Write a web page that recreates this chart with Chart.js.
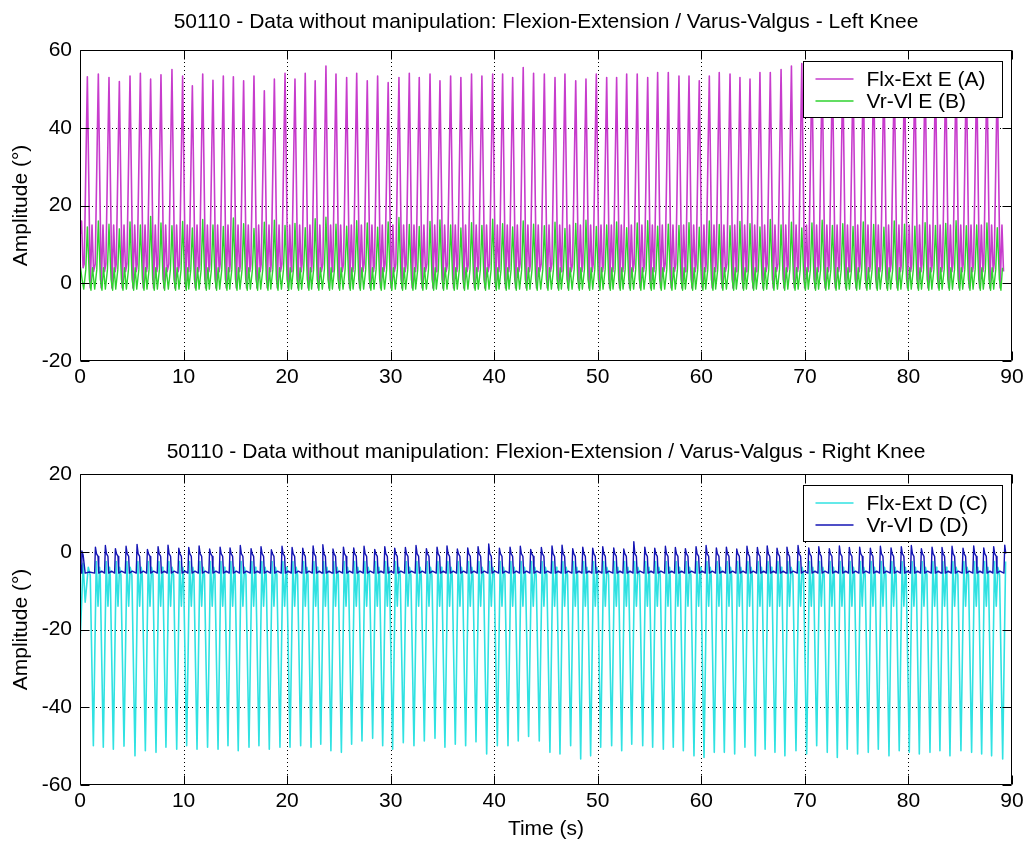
<!DOCTYPE html>
<html>
<head>
<meta charset="utf-8">
<title>50110 - Flexion-Extension / Varus-Valgus</title>
<script src="https://cdn.jsdelivr.net/npm/chart.js@4.4.1/dist/chart.umd.min.js"></script>
<style>
  html, body { margin: 0; padding: 0; background: #fff; }
  #page { position: relative; width: 1028px; height: 843px; overflow: hidden; }
  canvas { position: absolute; left: 0; }
  #left { top: 0; }
  #right { top: 420px; }
</style>
</head>
<body>
<div id="page">
  <canvas id="left" width="1028" height="420"></canvas>
  <canvas id="right" width="1028" height="423"></canvas>
</div>
<script>
// ---------------------------------------------------------------------------
// Gait record 50110, knee angles without manipulation.
// Every stride is described by the instant of its main extreme plus a few
// characteristic levels; the per-stride extremes are listed explicitly.
// ---------------------------------------------------------------------------

const timeTicks = [0, 10, 20, 30, 40, 50, 60, 70, 80, 90];
const leftTicks = [-20, 0, 20, 40, 60];
const rightTicks = [-60, -40, -20, 0, 20];

// Left knee: time (s) of each flexion peak
const leftStrideTimes = [
  0.71, 1.77, 2.80, 3.80, 4.83, 5.83, 6.82, 7.82, 8.88, 9.91,
  10.85, 11.85, 12.84, 13.84, 14.81, 15.80, 16.80, 17.80, 18.77, 19.80,
  20.76, 21.75, 22.71, 23.75, 24.72, 25.75, 26.72, 27.74, 28.74, 29.76,
  30.80, 31.80, 32.76, 33.80, 34.76, 35.79, 36.78, 37.81, 38.81, 39.85,
  40.81, 41.78, 42.80, 43.80, 44.84, 45.87, 46.83, 47.87, 48.86, 49.86,
  50.86, 51.82, 52.79, 53.81, 54.82, 55.78, 56.81, 57.84, 58.81, 59.80,
  60.77, 61.73, 62.77, 63.73, 64.70, 65.66, 66.66, 67.70, 68.70, 69.70,
  70.68, 71.67, 72.66, 73.66, 74.65, 75.64, 76.64, 77.63, 78.63, 79.62,
  80.62, 81.61, 82.61, 83.60, 84.60, 85.59, 86.59, 87.58, 88.58
];

// Flx-Ext E (A): swing flexion peak of each stride (deg)
const flxExtEPeaks = [
  53.1, 53.8, 52.9, 51.9, 53.3, 54.0, 52.5, 53.6, 55.0, 53.3,
  50.8, 53.8, 52.2, 53.3, 53.1, 52.1, 53.3, 49.5, 52.5, 54.0,
  52.5, 54.0, 52.1, 55.9, 53.8, 52.9, 54.0, 52.1, 53.3, 51.6,
  52.9, 54.0, 52.9, 53.8, 52.1, 53.3, 52.9, 53.8, 53.3, 53.8,
  53.8, 52.9, 55.5, 54.0, 53.8, 52.9, 53.8, 52.1, 52.5, 53.8,
  52.9, 52.9, 53.8, 53.8, 52.9, 54.2, 54.2, 53.3, 53.3, 52.1,
  53.3, 54.2, 53.8, 52.9, 52.5, 54.2, 54.2, 55.0, 55.9, 56.5,
  55.2, 54.6, 55.0, 54.3, 53.8, 54.5, 55.1, 54.0, 53.6, 54.4,
  53.9, 54.7, 53.5, 54.2, 53.8, 54.6, 53.9, 54.1, 53.7
];

// Vr-Vl E (B): peak of each stride (deg)
const vrVlEPeaks = [
  14.5, 16.0, 15.2, 14.0, 15.8, 15.0, 17.2, 15.5, 14.8, 15.9,
  14.2, 16.4, 15.0, 14.6, 16.8, 15.3, 14.1, 15.7, 16.2, 14.9,
  15.4, 14.3, 16.6, 17.0, 15.2, 14.7, 16.1, 15.5, 14.4, 15.8,
  16.9, 15.1, 14.6, 15.9, 16.3, 15.0, 14.2, 15.6, 14.9, 16.5,
  15.3, 14.5, 16.0, 15.2, 14.8, 15.7, 14.1, 15.4, 16.2, 14.6,
  15.0, 15.8, 14.3, 15.5, 16.1, 14.7, 15.2, 14.9, 15.6, 14.4,
  16.0, 15.1, 14.8, 15.9, 15.3, 14.5, 16.4, 15.0, 15.7, 14.2,
  15.5, 16.2, 14.9, 15.3, 14.6, 15.8, 15.1, 14.4, 16.0, 15.2,
  14.7, 15.6, 14.9, 15.4, 16.1, 14.8, 15.0, 15.5, 14.3
];

// Right knee: time (s) of each flexion extreme (negative sign convention)
const rightStrideTimes = [
  1.29, 2.25, 3.22, 4.25, 5.31, 6.31, 7.34, 8.30, 9.34, 10.30,
  11.30, 12.32, 13.33, 14.29, 15.28, 16.32, 17.28, 18.28, 19.31, 20.28,
  21.31, 22.31, 23.25, 24.23, 25.24, 26.23, 27.23, 28.26, 29.23, 30.19,
  31.22, 32.25, 33.25, 34.28, 35.24, 36.24, 37.24, 38.24, 39.27, 40.30,
  41.33, 42.32, 43.32, 44.35, 45.38, 46.35, 47.38, 48.35, 49.31, 50.28,
  51.34, 52.31, 53.28, 54.34, 55.30, 56.33, 57.29, 58.26, 59.29, 60.26,
  61.25, 62.22, 63.22, 64.21, 65.21, 66.16, 67.11, 68.07, 69.14, 70.17,
  71.14, 72.16, 73.13, 74.09, 75.09, 76.12, 77.09, 78.12, 79.11, 80.08,
  81.05, 82.08, 83.04, 84.01, 85.07, 86.10, 87.07, 88.03, 89.10
];

// Flx-Ext D (C): swing flexion extreme of each stride (deg)
const flxExtDTroughs = [
  -49.9, -50.3, -50.8, -50.0, -52.5, -51.2, -51.6, -50.3, -50.8, -49.9,
  -50.8, -50.3, -50.8, -49.9, -51.2, -50.3, -49.9, -50.8, -50.3, -50.3,
  -49.9, -50.3, -49.5, -51.2, -51.6, -49.5, -48.7, -48.0, -49.9, -50.8,
  -49.1, -49.9, -48.7, -48.0, -50.3, -49.5, -49.9, -48.9, -52.0, -49.9,
  -49.9, -48.7, -47.5, -48.7, -51.6, -52.0, -49.9, -53.3, -52.5, -50.3,
  -49.9, -51.2, -49.5, -49.9, -50.3, -50.8, -50.3, -51.2, -52.5, -52.9,
  -51.6, -51.6, -52.0, -50.3, -52.5, -50.8, -51.6, -52.5, -51.2, -52.0,
  -49.9, -51.6, -52.9, -50.8, -52.0, -51.6, -50.8, -52.5, -51.2, -51.6,
  -52.0, -51.6, -51.2, -52.5, -51.2, -51.6, -52.0, -52.5, -53.3
];

// Vr-Vl D (D): peak of each stride (deg)
const vrVlDPeaks = [
  1.2, 1.6, 0.8, 1.4, 1.9, 0.6, 1.3, 1.7, 0.9, 1.1,
  1.5, 0.7, 1.2, 1.0, 1.6, 0.8, 1.3, 0.5, 1.4, 1.1,
  0.9, 1.5, 1.8, 0.7, 1.2, 1.0, 1.4, 0.6, 1.3, 0.9,
  1.1, 1.6, 0.8, 1.2, 1.5, 0.7, 1.0, 1.3, 2.0, 0.9,
  1.2, 1.4, 0.6, 1.1, 1.5, 1.7, 0.8, 1.2, 0.9, 1.3,
  1.0, 0.7, 2.6, 1.2, 0.9, 1.4, 1.1, 0.8, 1.3, 1.6,
  1.0, 1.2, 0.7, 1.4, 1.1, 1.5, 0.9, 1.2, 1.6, 1.0,
  1.3, 0.8, 1.5, 1.1, 1.2, 0.9, 1.4, 1.0, 1.3, 1.6,
  0.8, 1.2, 1.1, 1.4, 0.9, 1.5, 1.0, 1.3, 1.7
];

// Typical waveform of one stride: phase offset (s) from the stride instant and
// the level seen at that phase; null takes the stride's own listed extreme.
const flxExtEPhase = [-0.30, 0.00, 0.28, 0.45, 0.60];
const flxExtELevel = [5.0, null, -1.2, 15.0, 3.0];
const vrVlEPhase = [-0.35, -0.15, 0.00, 0.20, 0.35, 0.50];
const vrVlELevel = [-1.5, 3.5, null, 1.0, -1.8, 4.0];
const flxExtDPhase = [-0.30, 0.00, 0.28, 0.45, 0.60];
const flxExtDLevel = [-6.0, null, -2.5, -14.0, -4.0];
const vrVlDPhase = [0.12, 0.20, 0.30, 0.45, 0.52, 0.80];
const vrVlDLevel = [-5.5, null, -0.5, -1.2, -5.5, -5.0];

// Samples before the first listed stride: [time, value]
const flxExtEStart = [[0.0, 12.0], [0.15, 16.0], [0.30, 4.0]];
const vrVlEStart = [[0.0, 5.0], [0.2, 1.0]];
const flxExtDStart = [[0.0, -24.0], [0.3, -3.0], [0.5, -13.0], [0.8, -4.0]];
const vrVlDStart = [[0.0, -2.0], [0.1, -5.5], [0.18, 0.2], [0.3, -0.8], [0.5, -5.5], [0.9, -5.2]];

function buildSeries(start, times, extremes, phase, level, tEnd) {
  const pts = start.map(([x, y]) => ({ x, y }));
  times.forEach((t, i) => {
    phase.forEach((dt, k) => {
      const x = +(t + dt).toFixed(3);
      if (x <= tEnd && x > pts[pts.length - 1].x) {
        pts.push({ x, y: level[k] === null ? extremes[i] : level[k] });
      }
    });
  });
  return pts;
}

const FONT_FAMILY = '"Liberation Sans", Arial, Helvetica, sans-serif';
const FONT_SIZE = 21;

// Axes frame in the classic style: dotted grid, inward ticks, full box,
// centred title and a boxed legend in the upper right.
const framePlugin = {
  id: 'frame',
  beforeDatasetsDraw(chart) {
    const { ctx, chartArea: a, scales: { x, y } } = chart;
    ctx.save();
    ctx.strokeStyle = '#000';
    ctx.lineWidth = 1;
    ctx.setLineDash([1, 3]);
    ctx.beginPath();
    x.ticks.forEach(t => {
      const px = Math.round(x.getPixelForValue(t.value)) + 0.5;
      if (px > a.left + 2 && px < a.right - 2) { ctx.moveTo(px, a.top); ctx.lineTo(px, a.bottom); }
    });
    y.ticks.forEach(t => {
      const py = Math.round(y.getPixelForValue(t.value)) + 0.5;
      if (py > a.top + 2 && py < a.bottom - 2) { ctx.moveTo(a.left, py); ctx.lineTo(a.right, py); }
    });
    ctx.stroke();
    ctx.restore();
  },
  afterDatasetsDraw(chart, args, opts) {
    const { ctx, chartArea: a, scales: { x, y } } = chart;
    const L = Math.round(a.left) + 0.5, R = Math.round(a.right) - 0.5;
    const T = Math.round(a.top) + 0.5, B = Math.round(a.bottom) - 0.5;
    ctx.save();
    ctx.strokeStyle = '#000';
    ctx.lineWidth = 1;
    ctx.setLineDash([]);
    ctx.beginPath();
    ctx.rect(L, T, R - L, B - T);
    const tl = opts.tickLength;
    x.ticks.forEach(t => {
      const px = Math.round(x.getPixelForValue(t.value)) + 0.5;
      ctx.moveTo(px, B); ctx.lineTo(px, B - tl);
      ctx.moveTo(px, T); ctx.lineTo(px, T + tl);
    });
    y.ticks.forEach(t => {
      const py = Math.round(y.getPixelForValue(t.value)) + 0.5;
      ctx.moveTo(L, py); ctx.lineTo(L + tl, py);
      ctx.moveTo(R, py); ctx.lineTo(R - tl, py);
    });
    ctx.stroke();

    // legend
    const lg = opts.legend;
    const bx = Math.round(a.right - lg.right - lg.width) + 0.5;
    const by = Math.round(a.top + lg.top) + 0.5;
    ctx.fillStyle = '#fff';
    ctx.fillRect(bx, by, lg.width, lg.height);
    ctx.strokeStyle = '#000';
    ctx.strokeRect(bx, by, lg.width, lg.height);
    ctx.font = `${FONT_SIZE}px ${FONT_FAMILY}`;
    ctx.textBaseline = 'middle';
    ctx.textAlign = 'left';
    chart.data.datasets.forEach((ds, i) => {
      const ry = Math.round(by + lg.rowTop + i * lg.rowGap);
      ctx.strokeStyle = ds.borderColor;
      ctx.lineWidth = lg.lineWidth;
      ctx.beginPath();
      ctx.moveTo(bx + lg.lineFrom, ry);
      ctx.lineTo(bx + lg.lineTo, ry);
      ctx.stroke();
      ctx.fillStyle = '#000';
      ctx.fillText(ds.label, bx + lg.textAt, ry + 1);
    });

    // title
    ctx.fillStyle = '#000';
    ctx.font = `${FONT_SIZE}px ${FONT_FAMILY}`;
    ctx.textAlign = 'center';
    ctx.textBaseline = 'middle';
    ctx.fillText(opts.title, (a.left + a.right) / 2, a.top - opts.titleGap);
    ctx.restore();
  }
};

function makeChart(canvasId, cfg) {
  const H = document.getElementById(canvasId).height;
  const font = { family: FONT_FAMILY, size: FONT_SIZE };
  return new Chart(document.getElementById(canvasId), {
    type: 'line',
    data: { datasets: cfg.datasets },
    plugins: [framePlugin],
    options: {
      responsive: false,
      devicePixelRatio: 1,
      animation: false,
      parsing: false,
      normalized: true,
      events: [],
      layout: { padding: { left: 0, right: 16, top: cfg.top, bottom: 0 } },
      elements: { point: { radius: 0 }, line: { tension: 0, borderWidth: 1.5, borderJoinStyle: 'round' } },
      plugins: {
        legend: { display: false },
        tooltip: { enabled: false },
        frame: {
          title: cfg.title,
          titleGap: cfg.titleGap,
          tickLength: 9,
          legend: { right: 10, top: 11, width: 199, height: 56, rowTop: 17, rowGap: 22,
                    lineFrom: 12, lineTo: 50, textAt: 63, lineWidth: 1.5 }
        }
      },
      scales: {
        x: {
          type: 'linear',
          min: timeTicks[0],
          max: timeTicks[timeTicks.length - 1],
          afterBuildTicks: s => { s.ticks = timeTicks.map(v => ({ value: v })); },
          afterFit: s => { s.height = H - cfg.bottom; s.paddingLeft = 0; s.paddingRight = 0; },
          grid: { display: false, drawTicks: false },
          border: { display: false },
          ticks: { color: '#000', padding: 4, maxRotation: 0, autoSkip: false, font },
          title: cfg.xTitle ? { display: true, text: cfg.xTitle, color: '#000', font,
                   padding: { top: 0, bottom: 1 } } : { display: false }
        },
        y: {
          type: 'linear',
          min: cfg.yTicks[0],
          max: cfg.yTicks[cfg.yTicks.length - 1],
          afterBuildTicks: s => { s.ticks = cfg.yTicks.map(v => ({ value: v })); },
          afterFit: s => { s.width = 80; s.paddingTop = 0; s.paddingBottom = 0; },
          grid: { display: false, drawTicks: false },
          border: { display: false },
          ticks: { color: '#000', padding: 8, font },
          title: { display: true, text: 'Amplitude (°)', color: '#000', font,
                   padding: { top: 9, bottom: 0 } }
        }
      }
    }
  });
}

makeChart('left', {
  top: 50, bottom: 361, titleGap: 28,
  title: '50110 - Data without manipulation: Flexion-Extension / Varus-Valgus - Left Knee',
  yTicks: leftTicks,
  datasets: [
    { label: 'Flx-Ext E (A)', borderColor: '#c73ccc', borderWidth: 1.6, order: 1,
      data: buildSeries(flxExtEStart, leftStrideTimes, flxExtEPeaks, flxExtEPhase, flxExtELevel, 89.3) },
    { label: 'Vr-Vl E (B)', borderColor: '#2fd22f', borderWidth: 1.4, order: 0,
      data: buildSeries(vrVlEStart, leftStrideTimes, vrVlEPeaks, vrVlEPhase, vrVlELevel, 89.3) }
  ]
});

makeChart('right', {
  top: 54, bottom: 365, titleGap: 22, xTitle: 'Time (s)',
  title: '50110 - Data without manipulation: Flexion-Extension / Varus-Valgus - Right Knee',
  yTicks: rightTicks,
  datasets: [
    { label: 'Flx-Ext D (C)', borderColor: '#30e2e2', borderWidth: 1.6, order: 1,
      data: buildSeries(flxExtDStart, rightStrideTimes, flxExtDTroughs, flxExtDPhase, flxExtDLevel, 89.4) },
    { label: 'Vr-Vl D (D)', borderColor: '#1414b4', borderWidth: 1.4, order: 0,
      data: buildSeries(vrVlDStart, rightStrideTimes, vrVlDPeaks, vrVlDPhase, vrVlDLevel, 89.4) }
  ]
});
</script>
</body>
</html>
